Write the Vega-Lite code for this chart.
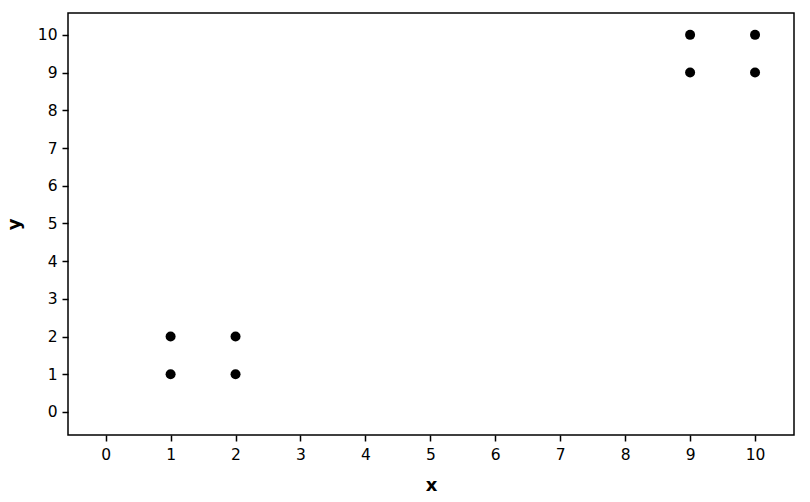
{
  "$schema": "https://vega.github.io/schema/vega-lite/v6.json",
  "width": 726,
  "height": 422,
  "autosize": {"type": "none"},
  "padding": {"left": 68, "top": 13, "right": 16, "bottom": 67},
  "background": "white",
  "config": {
    "view": {"stroke": "black", "strokeWidth": 1.5},
    "axis": {
      "domain": false,
      "grid": false,
      "tickColor": "black",
      "tickSize": 6,
      "tickWidth": 1.5,
      "labelColor": "black",
      "labelFont": "DejaVu Sans",
      "labelFontSize": 15.5,
      "titleFont": "DejaVu Sans",
      "titleFontSize": 18,
      "titleFontWeight": "bold",
      "titleColor": "black"
    }
  },
  "data": {
    "values": [
      {"x": 1, "y": 1},
      {"x": 1, "y": 2},
      {"x": 2, "y": 1},
      {"x": 2, "y": 2},
      {"x": 9, "y": 9},
      {"x": 9, "y": 10},
      {"x": 10, "y": 9},
      {"x": 10, "y": 10}
    ]
  },
  "mark": {"type": "circle", "color": "black", "opacity": 1, "size": 100},
  "encoding": {
    "x": {
      "field": "x",
      "type": "quantitative",
      "scale": {"domain": [-0.58, 10.6], "nice": false, "zero": false},
      "axis": {"values": [0, 1, 2, 3, 4, 5, 6, 7, 8, 9, 10], "labelPadding": 6, "titlePadding": 14}
    },
    "y": {
      "field": "y",
      "type": "quantitative",
      "scale": {"domain": [-0.61, 10.58], "nice": false, "zero": false},
      "axis": {"values": [0, 1, 2, 3, 4, 5, 6, 7, 8, 9, 10], "labelPadding": 5, "titlePadding": 14}
    }
  }
}
